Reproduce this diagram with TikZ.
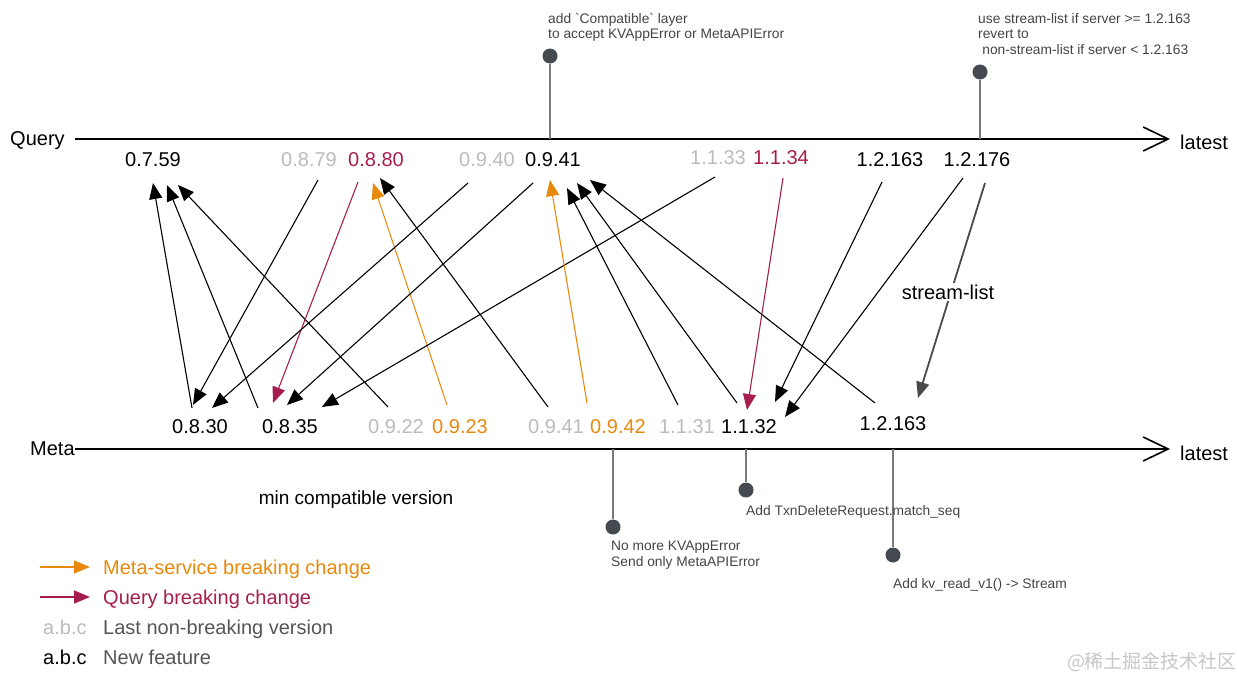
\documentclass[tikz,border=0pt]{standalone}
\usepackage{fontspec}
\setmainfont{Liberation Sans}[Ligatures=TeXOff]
\newfontfamily\cjkfont{Noto Sans CJK SC}
\usetikzlibrary{arrows.meta,calc}
\definecolor{mOrange}{HTML}{E8890C}
\definecolor{qCrimson}{HTML}{A61E4D}
\definecolor{lgray}{HTML}{BBBBBB}
\definecolor{notegray}{HTML}{444444}
\definecolor{legendgray}{HTML}{555555}
\definecolor{pindot}{HTML}{454A50}
\definecolor{pinline}{HTML}{7A7A7A}
\definecolor{streamgray}{HTML}{4A4A4A}
\begin{document}
\begin{tikzpicture}[x=1pt,y=-1pt,
  ver/.style={font=\fontsize{20}{24}\selectfont,inner sep=0pt},
  oldver/.style={ver,text=lgray},
  bigtext/.style={font=\fontsize{20}{24}\selectfont,inner sep=0pt,anchor=base west},
  note/.style={font=\fontsize{13.8}{15.5}\selectfont,text=notegray,inner sep=0pt,align=left,anchor=north west},
  axisline/.style={line width=1.6pt,draw=black,-{Straight Barb[length=25pt,width=24pt]}},
  conn/.style={line width=1.1pt,-{Triangle[length=16pt,width=13pt]}},
  blackconn/.style={conn,draw=black},
  orangeconn/.style={conn,draw=mOrange},
  crimsonconn/.style={conn,draw=qCrimson},
  pinstem/.style={line width=1.8pt,draw=pinline},
  pindotstyle/.style={circle,fill=pindot,minimum size=15pt,inner sep=0pt}
]
\useasboundingbox (0,0) rectangle (1237,678);

% axes
\node[bigtext] (qlabel) at (10,145) {Query};
\node[bigtext] (mlabel) at (30,455) {Meta};
\coordinate (qstart) at (75,139);
\coordinate (qend) at (1170,139);
\coordinate (mstart) at (75,449);
\coordinate (mend) at (1170,449);
\draw[axisline] (qstart) -- (qend);
\draw[axisline] (mstart) -- (mend);
\node[bigtext] (qlatest) at (1180,149) {latest};
\node[bigtext] (mlatest) at (1180,460) {latest};

% pins on Query axis
\coordinate (qp1) at (550,139);
\coordinate (qp2) at (980,139);
\node[pindotstyle] (qd1) at (550,56) {};
\node[pindotstyle] (qd2) at (980,72) {};
\draw[pinstem] (qp1) -- (qd1);
\draw[pinstem] (qp2) -- (qd2);
\node[note] (qn1) at (548,13) {add \symbol{96}Compatible\symbol{96} layer\\to accept KVAppError or MetaAPIError};
\node[note] (qn2) at (978,13) {use stream-list if server >= 1.2.163\\revert to\\\hspace*{0.3em}non-stream-list if server < 1.2.163};

% pins on Meta axis
\coordinate (mp1) at (613,449);
\coordinate (mp2) at (746,449);
\coordinate (mp3) at (893,449);
\node[pindotstyle] (md1) at (613,527) {};
\node[pindotstyle] (md2) at (746,490) {};
\node[pindotstyle] (md3) at (893,555) {};
\draw[pinstem] (mp1) -- (md1);
\draw[pinstem] (mp2) -- (md2);
\draw[pinstem] (mp3) -- (md3);
\node[note] (mn1) at (611,541) {No more KVAppError\\Send only MetaAPIError};
\node[note] (mn2) at (746,505) {Add TxnDeleteRequest.match\_seq};
\node[note] (mn3) at (893,578) {Add kv\_read\_v1() -> Stream};

% Query versions
\node[ver] (q0759) at (153,160) {0.7.59};
\node[oldver] (q0879) at (309,160) {0.8.79};
\node[ver,text=qCrimson] (q0880) at (376,160) {0.8.80};
\node[oldver] (q0940) at (487,160) {0.9.40};
\node[ver] (q0941) at (553,160) {0.9.41};
\node[oldver] (q1133) at (718,158) {1.1.33};
\node[ver,text=qCrimson] (q1134) at (781,158) {1.1.34};
\node[ver] (q12163) at (890,160) {1.2.163};
\node[ver] (q12176) at (977,160) {1.2.176};

% Meta versions
\node[ver] (m0830) at (200,427) {0.8.30};
\node[ver] (m0835) at (290,427) {0.8.35};
\node[oldver] (m0922) at (396,427) {0.9.22};
\node[ver,text=mOrange] (m0923) at (460,427) {0.9.23};
\node[oldver] (m0941) at (556,427) {0.9.41};
\node[ver,text=mOrange] (m0942) at (618,427) {0.9.42};
\node[oldver] (m1131) at (687,427) {1.1.31};
\node[ver] (m1132) at (749,427) {1.1.32};
\node[ver] (m12163) at (893,424) {1.2.163};

% connectors
\draw[blackconn] ($(m0830)+(-8,-19)$) -- ($(q0759)+(0,23)$);
\draw[blackconn] ($(m0835)+(-32,-19)$) -- ($(q0759)+(14,25)$);
\draw[blackconn] ($(m0922)+(-8,-20)$) -- ($(q0759)+(25,25)$);
\draw[blackconn] ($(q0879)+(9,20)$) -- ($(m0830)+(-7,-22)$);
\draw[crimsonconn] ($(q0880)+(-18,22)$) -- ($(m0835)+(-17,-24)$);
\draw[orangeconn] ($(m0923)+(-13,-22)$) -- ($(q0880)+(-3,23)$);
\draw[blackconn] ($(m0941)+(-8,-20)$) -- ($(q0880)+(4,18)$);
\draw[blackconn] ($(q0940)+(-19,23)$) -- ($(m0830)+(12,-19)$);
\draw[blackconn] ($(q0941)+(-20,23)$) -- ($(m0835)+(-3,-22)$);
\draw[blackconn] ($(q1133)+(-3,19)$) -- ($(m0835)+(32,-20)$);
\draw[orangeconn] ($(m0942)+(-31,-24)$) -- ($(q0941)+(-3,20)$);
\draw[blackconn] ($(m1131)+(-9,-22)$) -- ($(q0941)+(14,28)$);
\draw[blackconn] ($(m1132)+(-12,-24)$) -- ($(q0941)+(24,23)$);
\draw[blackconn] ($(m12163)+(-18,-21)$) -- ($(q0941)+(37,20)$);
\draw[crimsonconn] ($(q1134)+(2,20)$) -- ($(m1132)+(-2,-17)$);
\draw[blackconn] ($(q12163)+(-8,22)$) -- ($(m1132)+(26,-25)$);
\draw[blackconn] ($(q12176)+(-14,18)$) -- ($(m1132)+(36,-10)$);
\draw[conn,draw=streamgray,line width=1.8pt] ($(q12176)+(8,23)$) -- ($(m12163)+(25,-26)$);
\node[ver,fill=white,inner sep=2pt] (slabel) at (948,292) {stream-list};

\node[font=\fontsize{19}{23}\selectfont,inner sep=0pt,anchor=base] (mincomp) at (356,504) {min compatible version};

% legend
\coordinate (lg1s) at (40,567);
\coordinate (lg1e) at (90,567);
\coordinate (lg2s) at (40,597);
\coordinate (lg2e) at (90,597);
\draw[orangeconn,line width=1.4pt] (lg1s) -- (lg1e);
\draw[crimsonconn,line width=1.4pt] (lg2s) -- (lg2e);
\node[bigtext,text=mOrange] (lg1t) at (103,574) {Meta-service breaking change};
\node[bigtext,text=qCrimson] (lg2t) at (103,604) {Query breaking change};
\node[bigtext,text=lgray] (lg3a) at (43,634) {a.b.c};
\node[bigtext,text=legendgray] (lg3t) at (103,634) {Last non-breaking version};
\node[bigtext,text=black] (lg4a) at (43,664) {a.b.c};
\node[bigtext,text=legendgray] (lg4t) at (103,664) {New feature};

\node[font=\cjkfont\fontsize{19}{22}\selectfont,text=black!22,inner sep=0pt] (wm) at (1152,662) {@稀土掘金技术社区};
\end{tikzpicture}
\end{document}
